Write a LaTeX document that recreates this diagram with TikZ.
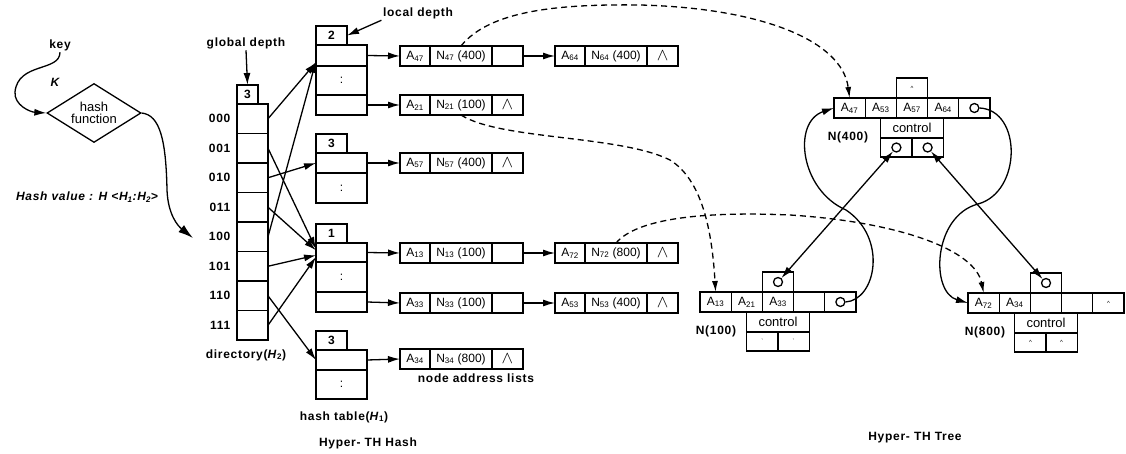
\documentclass[tikz,border=0pt]{standalone}
\usepackage{fontspec}
\setmainfont{Liberation Sans}
\newfontfamily\lblfont[LetterSpace=6]{Liberation Sans}
\usetikzlibrary{shapes.geometric, positioning, arrows.meta}

\begin{document}
\begin{tikzpicture}[
    x=1pt, y=-1pt, line width=1.3pt,
    lbl/.style={font=\lblfont\fontsize{12}{12}\selectfont\bfseries, inner sep=1pt},
    cell/.style={draw, rectangle, minimum height=20pt, inner sep=0pt, outer sep=0pt, font=\fontsize{12}{12}\selectfont},
    acell/.style={cell, minimum width=30pt},
    ncell/.style={cell, minimum width=62pt},
    pcell/.style={cell, minimum width=31pt},
    hdrbox/.style={cell, minimum width=31pt, minimum height=19pt, font=\fontsize{12}{12}\selectfont\bfseries},
    slot/.style={cell, minimum width=51pt},
    dircell/.style={cell, minimum width=31pt, minimum height=29.5pt},
    tcell/.style={cell, minimum width=31.2pt},
    ptr/.style={draw, circle, minimum size=9pt, inner sep=0pt},
    tick/.style={font=\fontsize{6}{6}\selectfont},
    arr/.style={-{Latex[length=12pt,width=7pt]}},
    biarr/.style={{Latex[length=12pt,width=7pt]}-{Latex[length=12pt,width=7pt]}},
    darr/.style={dash pattern=on 6pt off 4pt, -{Latex[length=11pt,width=6pt]}}
]
    \useasboundingbox (0,0) rectangle (1126,454);
    \newcommand{\nil}{\fontsize{16}{12}\selectfont$\wedge$}

    % Hash function
    \node[lbl] (key) at (60,45) {key};
    \node[lbl, font=\lblfont\fontsize{12}{12}\selectfont\bfseries\itshape] (kk) at (55,82) {K};
    \node[draw, diamond, aspect=1.6, inner sep=0pt, minimum width=94pt, minimum height=59pt, align=center, font=\fontsize{13}{12}\selectfont] (hf) at (94,113) {hash\\function};
    \node[lbl, font=\lblfont\fontsize{12}{12}\selectfont\bfseries\itshape] (hv) at (87,197) {Hash value : H <H\textsubscript{1}:H\textsubscript{2}>};
    \coordinate (hin) at (193,238);
    \draw[arr] (key.south) .. controls (60,72) and (18,62) .. (15,92) .. controls (14,105) and (30,112) .. (hf.west);
    \draw[-{Latex[length=15pt,width=9pt]}] (hf.east) .. controls (160,115) and (166,140) .. (167,190) .. controls (168,215) and (178,226) .. (hin);

    % Directory
    \node[lbl] (gd) at (246,43) {global depth};
    \node[hdrbox, minimum width=21pt, anchor=south west] (dh) at (237,104) {3};
    \node[dircell, anchor=north west] (d0) at (237,104) {};
    \node[dircell, below=0pt of d0] (d1) {};
    \node[dircell, below=0pt of d1] (d2) {};
    \node[dircell, below=0pt of d2] (d3) {};
    \node[dircell, below=0pt of d3] (d4) {};
    \node[dircell, below=0pt of d4] (d5) {};
    \node[dircell, below=0pt of d5] (d6) {};
    \node[dircell, below=0pt of d6] (d7) {};
    \node[lbl, left=5pt of d0] {000};
    \node[lbl, left=5pt of d1] {001};
    \node[lbl, left=5pt of d2] {010};
    \node[lbl, left=5pt of d3] {011};
    \node[lbl, left=5pt of d4] {100};
    \node[lbl, left=5pt of d5] {101};
    \node[lbl, left=5pt of d6] {110};
    \node[lbl, left=5pt of d7] {111};
    \node[lbl] at (246,355) {directory(\textit{H}\textsubscript{2})};
    \draw[arr] (gd.south) -- (dh.north);

    % Hash table buckets
    \node[lbl] (ld) at (418,13) {local depth};
    \node[hdrbox, anchor=south west] (b1h) at (316,45) {2};
    \node[slot, minimum height=21pt, anchor=north west] (b1r1) at (316,45) {};
    \node[slot, minimum height=29pt, below=0pt of b1r1] (b1r2) {:};
    \node[slot, below=0pt of b1r2] (b1r3) {};
    \node[hdrbox, anchor=south west] (b2h) at (316,153) {3};
    \node[slot, anchor=north west] (b2r1) at (316,153) {};
    \node[slot, minimum height=30pt, below=0pt of b2r1] (b2r2) {:};
    \node[hdrbox, anchor=south west] (b3h) at (316,243) {1};
    \node[slot, minimum height=19pt, anchor=north west] (b3r1) at (316,243) {};
    \node[slot, minimum height=30pt, below=0pt of b3r1] (b3r2) {:};
    \node[slot, below=0pt of b3r2] (b3r3) {};
    \node[hdrbox, anchor=south west] (b4h) at (316,350) {3};
    \node[slot, anchor=north west] (b4r1) at (316,350) {};
    \node[slot, minimum height=29pt, below=0pt of b4r1] (b4r2) {:};
    \node[lbl] at (344,417) {hash table(\textit{H}\textsubscript{1})};
    \node[lbl] at (368,443) {Hyper- TH Hash};
    \draw[arr] (ld.south west) -- (b1h.east);

    % Directory pointers
    \draw[arr] (d0.east) -- (b1r1.195);
    \draw[arr] (d1.east) -- (b3r1.172);
    \draw[arr] (d2.east) -- (b2r1.west);
    \draw[arr] (d3.east) -- (b3r1.175);
    \draw[arr] (d4.east) -- (b1r1.192);
    \draw[arr] (d5.east) -- (b3r1.186);
    \draw[arr] (d6.east) -- (b4r1.west);
    \draw[arr] (d7.east) -- (b3r1.190);

    % Node address lists
    \node[acell, anchor=west] (p1a) at (400,56) {A\textsubscript{47}};
    \node[ncell, right=0pt of p1a] (p1n) {N\textsubscript{47} (400)};
    \node[pcell, right=0pt of p1n] (p1p) {};
    \node[acell, anchor=west] (q1a) at (555,56) {A\textsubscript{64}};
    \node[ncell, right=0pt of q1a] (q1n) {N\textsubscript{64} (400)};
    \node[pcell, right=0pt of q1n] (q1p) {\nil};
    \node[acell, anchor=west] (p2a) at (400,105) {A\textsubscript{21}};
    \node[ncell, right=0pt of p2a] (p2n) {N\textsubscript{21} (100)};
    \node[pcell, right=0pt of p2n] (p2p) {\nil};
    \node[acell, anchor=west] (p3a) at (400,163) {A\textsubscript{57}};
    \node[ncell, right=0pt of p3a] (p3n) {N\textsubscript{57} (400)};
    \node[pcell, right=0pt of p3n] (p3p) {\nil};
    \node[acell, anchor=west] (p4a) at (400,253) {A\textsubscript{13}};
    \node[ncell, right=0pt of p4a] (p4n) {N\textsubscript{13} (100)};
    \node[pcell, right=0pt of p4n] (p4p) {};
    \node[acell, anchor=west] (q4a) at (555,253) {A\textsubscript{72}};
    \node[ncell, right=0pt of q4a] (q4n) {N\textsubscript{72} (800)};
    \node[pcell, right=0pt of q4n] (q4p) {\nil};
    \node[acell, anchor=west] (p5a) at (400,303) {A\textsubscript{33}};
    \node[ncell, right=0pt of p5a] (p5n) {N\textsubscript{33} (100)};
    \node[pcell, right=0pt of p5n] (p5p) {};
    \node[acell, anchor=west] (q5a) at (555,303) {A\textsubscript{53}};
    \node[ncell, right=0pt of q5a] (q5n) {N\textsubscript{53} (400)};
    \node[pcell, right=0pt of q5n] (q5p) {\nil};
    \node[acell, anchor=west] (p6a) at (400,359) {A\textsubscript{34}};
    \node[ncell, right=0pt of p6a] (p6n) {N\textsubscript{34} (800)};
    \node[pcell, right=0pt of p6n] (p6p) {\nil};
    \node[lbl] at (476,378) {node address lists};

    \draw[arr] (b1r1.east) -- (p1a.west);
    \draw[arr] (p1p.east) -- (q1a.west);
    \draw[arr] (b1r3.east) -- (p2a.west);
    \draw[arr] (b2r1.east) -- (p3a.west);
    \draw[arr] (b3r1.east) -- (p4a.west);
    \draw[arr] (p4p.east) -- (q4a.west);
    \draw[arr] (b3r3.east) -- (p5a.west);
    \draw[arr] (p5p.east) -- (q5a.west);
    \draw[arr] (b4r1.east) -- (p6a.west);

    % N(400)
    \node[tcell, anchor=north west] (t4a) at (834,98) {A\textsubscript{47}};
    \node[tcell, right=0pt of t4a] (t4b) {A\textsubscript{53}};
    \node[tcell, right=0pt of t4b] (t4c) {A\textsubscript{57}};
    \node[tcell, right=0pt of t4c] (t4d) {A\textsubscript{64}};
    \node[tcell, right=0pt of t4d] (t4e) {};
    \node[ptr] (t4o) at (t4e) {};
    \node[tcell, above=0pt of t4c, tick] (t4top) {\textasciicircum};
    \node[tcell, minimum width=62.4pt, below=0pt of t4c, font=\fontsize{13}{12}\selectfont] (t4ctl) {control};
    \node[tcell, minimum height=19pt, anchor=north east] (t4l) at (t4ctl.south) {};
    \node[tcell, minimum height=19pt, anchor=north west] (t4r) at (t4ctl.south) {};
    \node[ptr] (t4lo) at (t4l) {};
    \node[ptr] (t4ro) at (t4r) {};
    \node[lbl] at (848,137) {N(400)};

    % N(100)
    \node[tcell, anchor=north west] (t1a) at (700,292) {A\textsubscript{13}};
    \node[tcell, right=0pt of t1a] (t1b) {A\textsubscript{21}};
    \node[tcell, right=0pt of t1b] (t1c) {A\textsubscript{33}};
    \node[tcell, right=0pt of t1c] (t1d) {};
    \node[tcell, right=0pt of t1d] (t1e) {};
    \node[ptr] (t1o) at (t1e) {};
    \node[tcell, above=0pt of t1c] (t1top) {};
    \node[ptr] (t1to) at (t1top) {};
    \node[tcell, minimum width=62.4pt, below=0pt of t1c, font=\fontsize{13}{12}\selectfont] (t1ctl) {control};
    \node[tcell, minimum height=19pt, anchor=north east, tick] (t1l) at (t1ctl.south) {\textasciigrave};
    \node[tcell, minimum height=19pt, anchor=north west, tick] (t1r) at (t1ctl.south) {\textasciigrave};
    \node[lbl] at (716,331) {N(100)};

    % N(800)
    \node[tcell, anchor=north west] (t8a) at (968,293) {A\textsubscript{72}};
    \node[tcell, right=0pt of t8a] (t8b) {A\textsubscript{34}};
    \node[tcell, right=0pt of t8b] (t8c) {};
    \node[tcell, right=0pt of t8c] (t8d) {};
    \node[tcell, right=0pt of t8d, tick] (t8e) {\textasciicircum};
    \node[tcell, above=0pt of t8c] (t8top) {};
    \node[ptr] (t8to) at (t8top) {};
    \node[tcell, minimum width=62.4pt, below=0pt of t8c, font=\fontsize{13}{12}\selectfont] (t8ctl) {control};
    \node[tcell, minimum height=19pt, anchor=north east, tick] (t8l) at (t8ctl.south) {\textasciicircum};
    \node[tcell, minimum height=19pt, anchor=north west, tick] (t8r) at (t8ctl.south) {\textasciicircum};
    \node[lbl] at (985,332) {N(800)};
    \node[lbl] at (915,438) {Hyper- TH Tree};

    % Tree links
    \draw[biarr] (t4lo) -- (t1to);
    \draw[biarr] (t4ro) -- (t8to);
    \draw[arr] (t1o.east) .. controls (876,300) and (888,238) .. (846,210) .. controls (800,190) and (792,122) .. (t4a.west);
    \draw[arr] (t4o.east) .. controls (1022,110) and (1022,192) .. (978,204) .. controls (933,216) and (930,292) .. (t8a.west);

    % Dashed pointers
    \draw[darr] (p1n.north) .. controls (490,10) and (560,4) .. (640,5) .. controls (760,8) and (842,40) .. (t4a.north);
    \draw[darr] (p2n.south) .. controls (500,140) and (620,135) .. (670,160) .. controls (702,180) and (712,230) .. (t1a.north);
    \draw[darr] (q4n.north) .. controls (640,215) and (720,212) .. (790,215) .. controls (900,222) and (975,250) .. (t8a.north);
\end{tikzpicture}
\end{document}
